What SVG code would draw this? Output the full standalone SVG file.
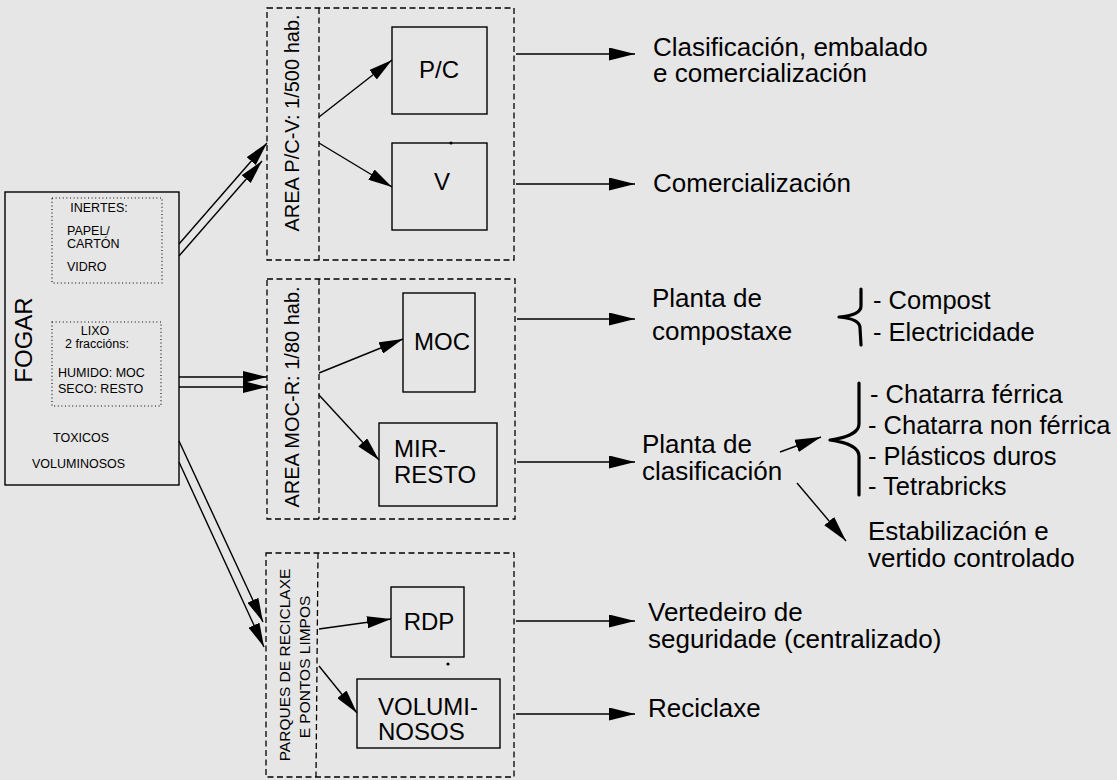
<svg xmlns="http://www.w3.org/2000/svg" width="1117" height="780" viewBox="0 0 1117 780">
<style>
text{font-family:"Liberation Sans",Arial,Helvetica,sans-serif;fill:#000}
.box{fill:none;stroke:#000;stroke-width:1.4}
.dash{fill:none;stroke:#000;stroke-width:1.3;stroke-dasharray:6 3.5}
.dot{fill:none;stroke:#000;stroke-width:1.1;stroke-dasharray:1 2.6}
.sm{font-size:12.5px}
.bx{font-size:24px}
.vt{font-size:20px}
.pk{font-size:15.5px}
.out{font-size:26px}
.lst{font-size:25.5px}
.ln{fill:none;stroke:#000;stroke-width:1.4}
.brace{fill:none;stroke:#000;stroke-width:3.2;stroke-linecap:round;stroke-linejoin:round}
</style>
<defs>
<marker id="ah" markerUnits="userSpaceOnUse" markerWidth="26" markerHeight="13" viewBox="0 0 26 13" refX="26" refY="6.5" orient="auto"><path d="M0,0 L26,6.5 L0,13 z" fill="#000"/></marker>
<marker id="ahs" markerUnits="userSpaceOnUse" markerWidth="24" markerHeight="12" viewBox="0 0 24 12" refX="24" refY="6" orient="auto"><path d="M0,0 L24,6 L0,12 z" fill="#000"/></marker>
</defs>
<rect width="1117" height="780" fill="#e6e6e6"/>

<g id="fogar">
<rect class="box" x="5" y="192" width="174" height="293"/>
<text transform="translate(32,340) rotate(-90)" text-anchor="middle" font-size="24">FOGAR</text>
<rect class="dot" x="52" y="198" width="110" height="85"/>
<text class="sm" x="99" y="212" text-anchor="middle">INERTES:</text>
<text class="sm" x="67" y="235" font-size="12px">PAPEL/</text>
<text class="sm" x="67" y="248" font-size="12px">CARTÓN</text>
<text class="sm" x="67" y="271">VIDRO</text>
<rect class="dot" x="52" y="322" width="109" height="84"/>
<text class="sm" x="95" y="335" text-anchor="middle">LIXO</text>
<text class="sm" x="97" y="348" text-anchor="middle">2 fraccións:</text>
<text class="sm" x="58" y="377">HUMIDO: MOC</text>
<text class="sm" x="58" y="393">SECO: RESTO</text>
<text class="sm" x="53" y="442">TOXICOS</text>
<text class="sm" x="32" y="468">VOLUMINOSOS</text>
</g>

<g id="area-pcv">
<rect class="dash" x="267" y="8" width="247" height="252"/>
<line class="dash" x1="319" y1="8" x2="319" y2="260"/>
<text class="vt" transform="translate(299,123) rotate(-90)" text-anchor="middle">AREA P/C-V: 1/500 hab.</text>
</g>
<g id="pc">
<rect class="box" x="392" y="27" width="95" height="87"/>
<text class="bx" x="439" y="78" text-anchor="middle">P/C</text>
</g>
<g id="v">
<rect class="box" x="392" y="143" width="95" height="87"/>
<circle cx="451" cy="143" r="1.6" fill="#000"/>
<text class="bx" x="442" y="190" text-anchor="middle">V</text>
</g>

<g id="area-mocr">
<rect class="dash" x="267" y="279" width="248" height="240"/>
<line class="dash" x1="319" y1="279" x2="319" y2="519"/>
<text class="vt" transform="translate(299,397) rotate(-90)" text-anchor="middle">AREA MOC-R: 1/80 hab.</text>
</g>
<g id="moc">
<rect class="box" x="403" y="293" width="72" height="99"/>
<text class="bx" x="442" y="350" text-anchor="middle">MOC</text>
</g>
<g id="mir-resto">
<rect class="box" x="379" y="423" width="118" height="83"/>
<text class="bx" x="394" y="457">MIR-</text>
<text class="bx" x="394" y="483">RESTO</text>
</g>

<g id="parques">
<rect class="dash" x="266" y="553" width="248" height="224"/>
<line class="dash" x1="318" y1="553" x2="316" y2="777"/>
<text class="pk" transform="translate(290,665) rotate(-90)" text-anchor="middle">PARQUES DE RECICLAXE</text>
<text class="pk" transform="translate(310,667) rotate(-90)" text-anchor="middle">E PONTOS LIMPOS</text>
</g>
<g id="rdp">
<rect class="box" x="391" y="587" width="73" height="70"/>
<text class="bx" x="429" y="630" text-anchor="middle">RDP</text>
<circle cx="448" cy="664" r="1.6" fill="#000"/>
</g>
<g id="voluminosos">
<rect class="box" x="357" y="679" width="143" height="69"/>
<text class="bx" x="378" y="715">VOLUMI-</text>
<text class="bx" x="378" y="740">NOSOS</text>
</g>

<g id="out-clasificacion">
<text class="out" x="653" y="56">Clasificación, embalado</text>
<text class="out" x="653" y="82">e comercialización</text>
</g>
<g id="out-comercializacion">
<text class="out" x="653" y="192">Comercialización</text>
</g>
<g id="out-compostaxe">
<text class="out" x="652" y="307">Planta de</text>
<text class="out" x="652" y="340">compostaxe</text>
</g>
<g id="out-compost-list">
<path class="brace" d="M861,289 L861,306 C861,313 851,316 839,317 C851,318 860,321 860,328 L861,345"/>
<text class="lst" x="873" y="309">- Compost</text>
<text class="lst" x="873" y="341">- Electricidade</text>
</g>
<g id="out-planta-clas">
<text class="out" x="642" y="453">Planta de</text>
<text class="out" x="642" y="480">clasificación</text>
</g>
<g id="out-chatarra-list">
<path class="brace" d="M859,383 L859,424 C859,433 845,438 830,440 C845,442 859,447 859,456 L859,495"/>
<text class="lst" x="870" y="403">- Chatarra férrica</text>
<text class="lst" x="868" y="434">- Chatarra non férrica</text>
<text class="lst" x="868" y="465">- Plásticos duros</text>
<text class="lst" x="868" y="495">- Tetrabricks</text>
</g>
<g id="out-estabilizacion">
<text class="out" x="868" y="540">Estabilización e</text>
<text class="out" x="868" y="567">vertido controlado</text>
</g>
<g id="out-vertedeiro">
<text class="out" x="648" y="621">Vertedeiro de</text>
<text class="out" x="648" y="648">seguridade (centralizado)</text>
</g>
<g id="out-reciclaxe">
<text class="out" x="648" y="717">Reciclaxe</text>
</g>

<g id="connectors">
<line class="ln" x1="179" y1="244" x2="267" y2="143" marker-end="url(#ahs)"/>
<line class="ln" x1="179" y1="256" x2="262" y2="161" marker-end="url(#ahs)"/>
<line class="ln" x1="179" y1="377" x2="267" y2="377" marker-end="url(#ahs)"/>
<line class="ln" x1="179" y1="387" x2="267" y2="387" marker-end="url(#ahs)"/>
<line class="ln" x1="179" y1="441" x2="263" y2="622" marker-end="url(#ahs)"/>
<line class="ln" x1="179" y1="462" x2="264" y2="647" marker-end="url(#ahs)"/>

<line class="ln" x1="319" y1="117" x2="392" y2="60" marker-end="url(#ahs)"/>
<line class="ln" x1="319" y1="143" x2="392" y2="187" marker-end="url(#ahs)"/>
<line class="ln" x1="319" y1="373" x2="403" y2="339" marker-end="url(#ahs)"/>
<line class="ln" x1="319" y1="395" x2="379" y2="460" marker-end="url(#ahs)"/>
<line class="ln" x1="319" y1="629" x2="391" y2="619" marker-end="url(#ahs)"/>
<line class="ln" x1="319" y1="666" x2="357" y2="713" marker-end="url(#ahs)"/>

<line class="ln" x1="516" y1="54" x2="635" y2="54" marker-end="url(#ah)"/>
<line class="ln" x1="516" y1="184" x2="635" y2="184" marker-end="url(#ah)"/>
<line class="ln" x1="517" y1="319" x2="635" y2="319" marker-end="url(#ah)"/>
<line class="ln" x1="517" y1="462" x2="635" y2="462" marker-end="url(#ah)"/>
<line class="ln" x1="516" y1="621" x2="635" y2="621" marker-end="url(#ah)"/>
<line class="ln" x1="516" y1="714" x2="635" y2="714" marker-end="url(#ah)"/>

<line class="ln" x1="780" y1="452" x2="821" y2="437" marker-end="url(#ah)"/>
<line class="ln" x1="797" y1="483" x2="846" y2="541" marker-end="url(#ah)"/>
</g>
</svg>
